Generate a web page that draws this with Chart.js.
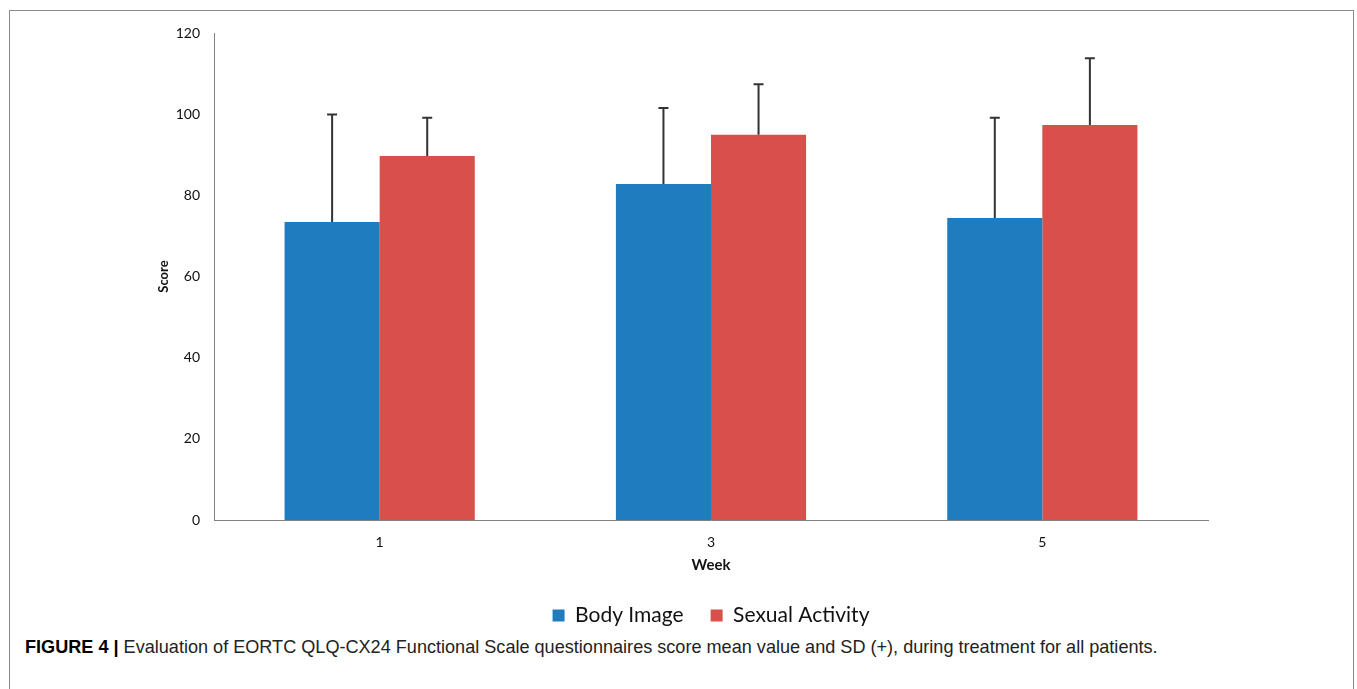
<!DOCTYPE html>
<html lang="en">
<head>
    <meta charset="UTF-8">
    <title>EORTC QLQ-CX24 Functional Scale</title>
    <script src="https://cdn.jsdelivr.net/npm/chart.js"></script>
    <style>
        body {
            margin: 0;
            background: #fff;
            width: 1357px;
            height: 689px;
            overflow: hidden;
            position: relative;
        }
        .frame {
            position: absolute;
            left: 9px;
            top: 10px;
            width: 1343px;
            height: 700px;
            border: 1px solid #8a8a8a;
        }
        .chart-box {
            position: absolute;
            left: 0;
            top: 0;
            width: 1357px;
            height: 636px;
        }
        .caption {
            position: absolute;
            left: 25px;
            top: 637px;
            font-family: 'Liberation Sans', Arial, sans-serif;
            font-size: 18.1px;
            color: #222;
            white-space: nowrap;
        }
        .caption b { color: #000; }
    </style>
</head>
<body>
    <div class="frame"></div>
    <div class="chart-box"><canvas id="chart"></canvas></div>
    <div class="caption"><b>FIGURE 4 |</b> Evaluation of EORTC QLQ-CX24 Functional Scale questionnaires score mean value and SD (+), during treatment for all patients.</div>

    <script>
        const weeks = ['1', '3', '5'];
        const bodyImage = [73.4, 82.8, 74.4];
        const bodyImageSD = [26.5, 18.7, 24.7];
        const sexualActivity = [89.7, 94.9, 97.3];
        const sexualActivitySD = [9.4, 12.5, 16.5];
        const yTicks = [0, 20, 40, 60, 80, 100, 120];

        // draws the upper SD whisker on every bar
        const errorBars = {
            id: 'errorBars',
            afterDatasetsDraw(chart) {
                const ctx = chart.ctx;
                const y = chart.scales.y;
                ctx.save();
                ctx.strokeStyle = '#333';
                ctx.lineWidth = 2;
                chart.data.datasets.forEach((ds, i) => {
                    const meta = chart.getDatasetMeta(i);
                    meta.data.forEach((bar, j) => {
                        const top = y.getPixelForValue(ds.data[j] + ds.sd[j]);
                        ctx.beginPath();
                        ctx.moveTo(bar.x, bar.y);
                        ctx.lineTo(bar.x, top);
                        ctx.moveTo(bar.x - 5, top);
                        ctx.lineTo(bar.x + 5, top);
                        ctx.stroke();
                    });
                });
                ctx.restore();
            }
        };

        new Chart(document.getElementById('chart'), {
            type: 'bar',
            data: {
                labels: weeks,
                datasets: [
                    {
                        label: 'Body Image',
                        data: bodyImage,
                        sd: bodyImageSD,
                        backgroundColor: '#1f7dbf'
                    },
                    {
                        label: 'Sexual Activity',
                        data: sexualActivity,
                        sd: sexualActivitySD,
                        backgroundColor: '#d94f4b'
                    }
                ]
            },
            options: {
                responsive: true,
                maintainAspectRatio: false,
                animation: false,
                categoryPercentage: 0.574,
                barPercentage: 1,
                layout: { padding: { top: 33, right: 149, left: 152, bottom: 0 } },
                plugins: {
                    tooltip: { enabled: false },
                    legend: {
                        position: 'bottom',
                        fullSize: false,
                        labels: {
                            boxWidth: 12,
                            boxHeight: 12,
                            padding: 27,
                            color: '#111',
                            font: { family: 'Lato', size: 21 }
                        }
                    }
                },
                scales: {
                    x: {
                        grid: { display: false, drawTicks: false },
                        border: { color: '#808080', width: 1 },
                        ticks: { color: '#111', padding: 14, font: { family: 'Lato', size: 14 } },
                        title: {
                            display: true,
                            text: 'Week',
                            color: '#111',
                            padding: { top: 11 },
                            font: { family: 'Lato', size: 15, weight: 'bold' }
                        },
                        afterFit(scale) { scale.height = 58; }
                    },
                    y: {
                        min: 0,
                        max: 120,
                        afterBuildTicks(scale) { scale.ticks = yTicks.map(v => ({ value: v })); },
                        grid: { display: false, drawTicks: false },
                        border: { color: '#808080', width: 1 },
                        ticks: { color: '#111', padding: 14, font: { family: 'Lato', size: 14 } },
                        title: {
                            display: true,
                            text: 'Score',
                            color: '#111',
                            padding: { bottom: 0 },
                            font: { family: 'Lato', size: 13, weight: 'bold' }
                        },
                        afterFit(scale) { scale.width = 62; }
                    }
                }
            },
            plugins: [errorBars]
        });
    </script>
</body>
</html>
